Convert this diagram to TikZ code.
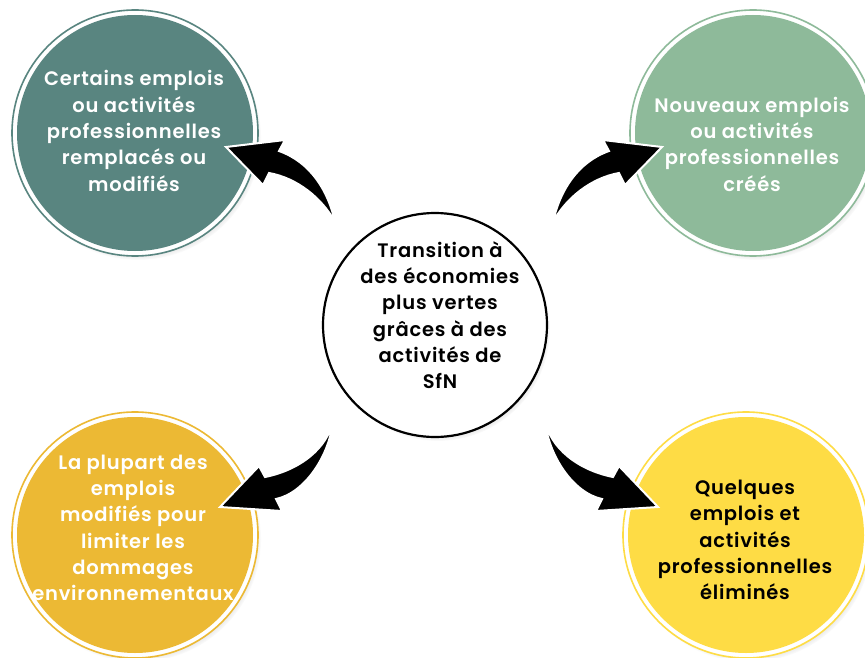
\documentclass[tikz,border=0pt]{standalone}
\usepackage{fontspec}
\setmainfont{Poppins}[UprightFont=* SemiBold, BoldFont=* Bold, LetterSpace=4]
\usetikzlibrary{shadows}
\definecolor{tealc}{HTML}{598580}
\definecolor{greenc}{HTML}{8EBA9A}
\definecolor{orangec}{HTML}{ECB934}
\definecolor{yellowc}{HTML}{FEDC45}
\begin{document}
\begin{tikzpicture}[x=1pt,y=-1pt,
  ring/.style={circle, minimum size=246pt, inner sep=0pt, fill=white, line width=1.6pt,
    circular drop shadow={shadow xshift=3pt, shadow yshift=-4pt, shadow scale=1.0, opacity=.55}},
  core/.style={circle, minimum size=236pt, inner sep=0pt},
  lbl/.style={align=center, font=\fontsize{19.5}{26.3}\selectfont},
  bigarrow/.style={fill=black, draw=white, line width=2pt, line join=miter}]
\useasboundingbox (0,0) rectangle (865,658);

% outer circles
\node[ring, draw=tealc] (tlr) at (135,133) {};
\node[core, fill=tealc] (tl) at (tlr) {};
\node[ring, draw=greenc] (trr) at (753,133) {};
\node[core, fill=greenc] (tr) at (trr) {};
\node[ring, draw=orangec] (blr) at (135,535) {};
\node[core, fill=orangec] (bl) at (blr) {};
\node[ring, draw=yellowc] (brr) at (746,535) {};
\node[core, fill=yellowc] (br) at (brr) {};

% centre circle
\node[circle, minimum size=224pt, inner sep=0pt, draw=black, line width=2.2pt, fill=white,
  circular drop shadow={shadow xshift=3pt, shadow yshift=-4pt, shadow scale=1.0, opacity=.55}] (c) at (435,325) {};

% arrows
\draw[bigarrow] (335,222) .. controls (328,190) and (310,162) .. (279,151) -- (285,140) -- (226,147) -- (263,185) -- (269,173) .. controls (297,178) and (322,198) .. cycle;
\draw[bigarrow] (553,222) .. controls (560,190) and (578,162) .. (609,151) -- (603,140) -- (662,147) -- (625,185) -- (619,173) .. controls (591,178) and (566,198) .. cycle;
\draw[bigarrow] (333,420) .. controls (328,448) and (300,470) .. (265,477) -- (259,466) -- (220,507) -- (282,511) -- (276,499) .. controls (305,493) and (330,455) .. cycle;
\draw[bigarrow] (545,420) .. controls (550,448) and (578,470) .. (613,477) -- (619,466) -- (658,507) -- (596,511) -- (602,499) .. controls (573,493) and (548,455) .. cycle;

% labels
\node[lbl, text=white] (tlt) at (134,131) {Certains emplois\\ou activités\\professionnelles\\remplacés ou\\modifiés};
\node[lbl, text=white] (trt) at (752,144) {Nouveaux emplois\\ou activités\\professionnelles\\créés};
\node[lbl, text=white] (blt) at (133,528) {La plupart des\\emplois\\modifiés pour\\limiter les\\dommages\\environnementaux};
\node[lbl, text=black] (brt) at (745,540) {Quelques\\emplois et\\activités\\professionnelles\\éliminés};
\node[lbl, text=black] (ct) at (440,315) {Transition à\\des économies\\plus vertes\\grâces à des\\activités de\\SfN};
\end{tikzpicture}
\end{document}
